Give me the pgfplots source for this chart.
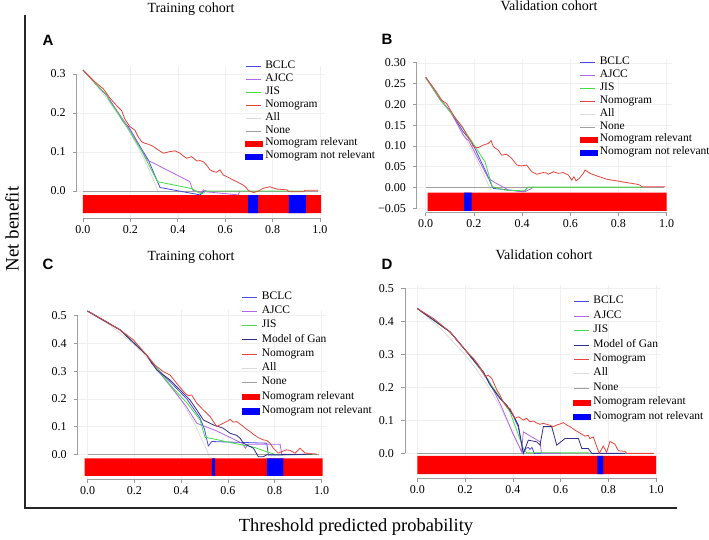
\documentclass[border=0pt]{standalone}
\usepackage{fontspec}
\setmainfont{Liberation Serif}
\newfontfamily\lettersf{Liberation Sans}
\usepackage{pgfplots}
\pgfplotsset{compat=1.18}
\definecolor{cBCLC}{HTML}{4A4AE6}
\definecolor{cAJCC}{HTML}{B266E8}
\definecolor{cJIS}{HTML}{44DD44}
\definecolor{cNomo}{HTML}{E8443A}
\definecolor{cAll}{HTML}{DADADA}
\definecolor{cNone}{HTML}{A0A0A0}
\definecolor{cGan}{HTML}{2E2E8C}
\definecolor{cRed}{HTML}{FF0000}
\definecolor{cBlue}{HTML}{0000FF}
\pgfplotsset{
  dca/.style={scale only axis, clip=false, anchor=south west,
    axis x line*=bottom, axis y line*=left, axis line style={draw=none},
    tick align=outside, major tick length=3.5pt, tick style={gray!80, line width=0.6pt},
    grid=major, major grid style={gray!12, line width=0.5pt},
    xtick={0,0.2,0.4,0.6,0.8,1}, xticklabels={0.0,0.2,0.4,0.6,0.8,1.0},
    ticklabel style={font=\rmfamily\fontsize{12}{12}\selectfont},
    yticklabel style={xshift=-4pt},
    legend cell align=left,
    legend style={draw=none, fill=none, anchor=north west, inner sep=0pt, outer sep=0pt,
      column sep=2.3pt, row sep=0pt, font=\rmfamily\fontsize{11.5}{11.5}\selectfont},
    every axis plot/.append style={line width=0.8pt}},
  ll/.style={legend image code/.code={\draw[#1, line width=1pt] (0pt,0pt) -- (15pt,0pt);}},
  barleg/.style={legend image code/.code={\fill[#1] (0pt,-2.6pt) rectangle (17pt,2.6pt);}},
}
\begin{document}
\begin{tikzpicture}
\useasboundingbox (0pt,0pt) rectangle (709pt,-540pt);
\draw[black!85, line width=1.6pt] (25pt,-15pt) -- (25pt,-508pt) -- (677pt,-508pt);
\node[rotate=90, font=\fontsize{19}{19}\selectfont] at (12pt,-229pt) {Net benefit};
\node[font=\fontsize{18.5}{18.5}\selectfont] at (356pt,-527pt) {Threshold predicted probability};
\node[font=\fontsize{14}{14}\selectfont] at (191pt,-9pt) {Training cohort};
\node[font=\fontsize{14}{14}\selectfont] at (549pt,-6pt) {Validation cohort};
\node[font=\fontsize{14}{14}\selectfont] at (191pt,-257pt) {Training cohort};
\node[font=\fontsize{14}{14}\selectfont] at (544pt,-255pt) {Validation cohort};
\node[font=\lettersf\bfseries\fontsize{15}{15}\selectfont] at (48pt,-40pt) {A};
\node[font=\lettersf\bfseries\fontsize{15}{15}\selectfont] at (387pt,-39pt) {B};
\node[font=\lettersf\bfseries\fontsize{15}{15}\selectfont] at (48pt,-264pt) {C};
\node[font=\lettersf\bfseries\fontsize{15}{15}\selectfont] at (387pt,-264pt) {D};

% ---------------- Panel A ----------------
\begin{axis}[dca, at={(76.6pt,-218.3pt)}, width=248.1pt, height=152.1pt,
  xmin=-0.027, xmax=1.02, ymin=-0.07, ymax=0.32,
  ytick={0,0.1,0.2,0.3}, yticklabels={0.0,0.1,0.2,0.3},
  legend style={at={(0.679,1.040)}, nodes={inner sep=0pt, text height=8.4pt, text depth=4.5pt}}]
\addplot[fill=cRed, draw=none, forget plot] coordinates {(0,-0.0103) (1.005,-0.0103) (1.005,-0.057) (0,-0.057) (0,-0.0103)};
\addplot[fill=cBlue, draw=none, forget plot] coordinates {(0.697,-0.0103) (0.739,-0.0103) (0.739,-0.057) (0.697,-0.057) (0.697,-0.0103)};
\addplot[fill=cBlue, draw=none, forget plot] coordinates {(0.869,-0.0103) (0.941,-0.0103) (0.941,-0.057) (0.869,-0.057) (0.869,-0.0103)};
\addplot[cAll, forget plot] coordinates {(0,0.31)(0.05,0.275)(0.1,0.238)(0.15,0.195)(0.2,0.148)(0.25,0.092)(0.28,0.053)(0.3,0.025)(0.318,-0.004)};
\addplot[cNone, forget plot] coordinates {(0,0)(0.99,0)};
\addplot[cBCLC, forget plot] coordinates {(0,0.31)(0.1,0.245)(0.149,0.199)(0.17,0.178)(0.191,0.166)(0.25,0.105)(0.276,0.079)(0.325,0.009)(0.494,-0.010)(0.508,-0.001)(0.52,0.001)};
\addplot[cAJCC, forget plot] coordinates {(0,0.31)(0.1,0.245)(0.15,0.2)(0.2,0.155)(0.27,0.08)(0.451,0.024)(0.463,0.002)(0.50,-0.004)(0.508,0.003)(0.52,-0.002)(0.655,-0.010)(0.662,0.0)};
\addplot[cJIS, forget plot] coordinates {(0,0.31)(0.1,0.246)(0.114,0.229)(0.17,0.18)(0.25,0.10)(0.314,0.024)(0.46,0.006)(0.50,-0.008)(0.52,0.0)(0.93,0.0)};
\addplot[cNomo, forget plot] coordinates {(0,0.31)(0.05,0.28)(0.086,0.262)(0.114,0.238)(0.142,0.219)(0.163,0.206)(0.177,0.184)(0.198,0.165)(0.219,0.156)(0.233,0.139)(0.248,0.126)(0.262,0.122)(0.276,0.12)(0.297,0.114)(0.318,0.105)(0.339,0.097)(0.353,0.099)(0.367,0.101)(0.388,0.103)(0.409,0.097)(0.423,0.09)(0.437,0.084)(0.459,0.088)(0.48,0.077)(0.494,0.078)(0.508,0.075)(0.522,0.066)(0.536,0.054)(0.55,0.05)(0.564,0.048)(0.578,0.054)(0.592,0.041)(0.613,0.035)(0.634,0.028)(0.655,0.022)(0.676,0.015)(0.69,0.008)(0.698,0.001)(0.72,-0.004)(0.74,0.0)(0.761,0.007)(0.789,0.011)(0.817,0.005)(0.86,0.003)(0.87,-0.002)(0.93,-0.002)(0.937,0.002)(0.993,0.002)};
\draw[gray!75, line width=0.8pt] (axis cs:-0.027,0) -- (axis cs:-0.027,0.3);
\draw[gray!75, line width=0.8pt] (axis cs:0,-0.07) -- (axis cs:1,-0.07);
\addlegendimage{ll=cBCLC}\addlegendentry{BCLC}
\addlegendimage{ll=cAJCC}\addlegendentry{AJCC}
\addlegendimage{ll=cJIS}\addlegendentry{JIS}
\addlegendimage{ll=cNomo}\addlegendentry{Nomogram}
\addlegendimage{ll=cAll}\addlegendentry{All}
\addlegendimage{ll=cNone}\addlegendentry{None}
\addlegendimage{barleg=cRed}\addlegendentry{Nomogram relevant}
\addlegendimage{barleg=cBlue}\addlegendentry{Nomogram not relevant}
\end{axis}

% ---------------- Panel B ----------------
\begin{axis}[dca, at={(416.8pt,-212.5pt)}, width=254.7pt, height=153.9pt,
  xmin=-0.037, xmax=1.02, ymin=-0.06, ymax=0.31,
  ytick={-0.05,0,0.05,0.1,0.15,0.2,0.25,0.3}, yticklabels={−0.05,0.00,0.05,0.10,0.15,0.20,0.25,0.30},
  legend style={at={(0.639,1.016)}, nodes={inner sep=0pt, text height=8.4pt, text depth=4.5pt}}]
\addplot[fill=cRed, draw=none, forget plot] coordinates {(0.008,-0.0125) (1.0,-0.0125) (1.0,-0.056) (0.008,-0.056) (0.008,-0.0125)};
\addplot[fill=cBlue, draw=none, forget plot] coordinates {(0.159,-0.0125) (0.191,-0.0125) (0.191,-0.056) (0.159,-0.056) (0.159,-0.0125)};
\addplot[cAll, forget plot] coordinates {(0,0.265)(0.05,0.226)(0.1,0.183)(0.15,0.135)(0.2,0.081)(0.25,0.02)(0.27,-0.007)};
\addplot[cNone, forget plot] coordinates {(0,0)(0.99,0)};
\addplot[cBCLC, forget plot] coordinates {(0,0.265)(0.059,0.212)(0.1,0.185)(0.156,0.134)(0.191,0.110)(0.253,0.034)(0.276,0.002)(0.281,-0.002)(0.405,-0.010)(0.423,0.0)};
\addplot[cAJCC, forget plot] coordinates {(0,0.265)(0.059,0.212)(0.1,0.185)(0.156,0.126)(0.17,0.116)(0.177,0.114)(0.26,0.022)(0.281,0.014)(0.343,-0.006)(0.412,-0.010)(0.44,-0.002)(0.447,0.002)};
\addplot[cJIS, forget plot] coordinates {(0,0.265)(0.059,0.212)(0.149,0.148)(0.246,0.062)(0.276,0.002)(0.329,-0.006)(0.412,-0.008)(0.423,0.001)(0.9,0.001)};
\addplot[cNomo, forget plot] coordinates {(0,0.265)(0.039,0.234)(0.066,0.210)(0.087,0.202)(0.115,0.174)(0.135,0.158)(0.156,0.142)(0.170,0.126)(0.184,0.114)(0.198,0.098)(0.218,0.096)(0.239,0.102)(0.260,0.106)(0.271,0.113)(0.281,0.098)(0.301,0.090)(0.315,0.078)(0.336,0.080)(0.357,0.070)(0.378,0.054)(0.398,0.052)(0.419,0.054)(0.440,0.038)(0.461,0.032)(0.474,0.034)(0.488,0.036)(0.502,0.035)(0.509,0.032)(0.53,0.038)(0.55,0.034)(0.571,0.036)(0.592,0.030)(0.606,0.018)(0.615,0.026)(0.624,0.016)(0.637,0.022)(0.654,0.034)(0.661,0.042)(0.682,0.034)(0.71,0.028)(0.751,0.020)(0.793,0.016)(0.834,0.012)(0.876,0.008)(0.889,0.006)(0.896,0.002)(0.993,0.002)};
\draw[gray!75, line width=0.8pt] (axis cs:-0.037,-0.05) -- (axis cs:-0.037,0.3);
\draw[gray!75, line width=0.8pt] (axis cs:0,-0.06) -- (axis cs:1,-0.06);
\addlegendimage{ll=cBCLC}\addlegendentry{BCLC}
\addlegendimage{ll=cAJCC}\addlegendentry{AJCC}
\addlegendimage{ll=cJIS}\addlegendentry{JIS}
\addlegendimage{ll=cNomo}\addlegendentry{Nomogram}
\addlegendimage{ll=cAll}\addlegendentry{All}
\addlegendimage{ll=cNone}\addlegendentry{None}
\addlegendimage{barleg=cRed}\addlegendentry{Nomogram relevant}
\addlegendimage{barleg=cBlue}\addlegendentry{Nomogram not relevant}
\end{axis}

% ---------------- Panel C ----------------
\begin{axis}[dca, at={(77.7pt,-479.2pt)}, width=248.5pt, height=169pt,
  xmin=-0.042, xmax=1.02, ymin=-0.09, ymax=0.52,
  ytick={0,0.1,0.2,0.3,0.4,0.5}, yticklabels={0.0,0.1,0.2,0.3,0.4,0.5},
  legend style={at={(0.66,1.120)}, nodes={inner sep=0pt, text height=9.2pt, text depth=5.1pt}}]
\addplot[fill=cRed, draw=none, forget plot] coordinates {(-0.012,-0.0144) (1.005,-0.0144) (1.005,-0.078) (-0.012,-0.078) (-0.012,-0.0144)};
\addplot[fill=cBlue, draw=none, forget plot] coordinates {(0.531,-0.0144) (0.545,-0.0144) (0.545,-0.078) (0.531,-0.078) (0.531,-0.0144)};
\addplot[fill=cBlue, draw=none, forget plot] coordinates {(0.766,-0.0144) (0.837,-0.0144) (0.837,-0.078) (0.766,-0.078) (0.766,-0.0144)};
\addplot[cAll, forget plot] coordinates {(0,0.517)(0.1,0.463)(0.2,0.396)(0.3,0.31)(0.35,0.257)(0.4,0.195)(0.45,0.122)(0.5,0.034)(0.52,-0.006)};
\addplot[cNone, forget plot] coordinates {(0,0)(0.99,0)};
\addplot[cBCLC, forget plot] coordinates {(0,0.517)(0.139,0.449)(0.253,0.358)(0.274,0.328)(0.353,0.262)(0.424,0.20)(0.48,0.132)(0.50,0.09)(0.516,0.03)(0.531,0.046)(0.766,0.040)(0.773,-0.003)(0.98,0.0)};
\addplot[cAJCC, forget plot] coordinates {(0,0.517)(0.139,0.449)(0.253,0.358)(0.281,0.322)(0.35,0.25)(0.42,0.175)(0.467,0.112)(0.55,0.085)(0.623,0.055)(0.66,0.040)(0.675,0.022)(0.685,0.036)(0.823,0.036)(0.83,0.0)(0.98,0.0)};
\addplot[cJIS, forget plot] coordinates {(0,0.517)(0.139,0.449)(0.253,0.358)(0.267,0.34)(0.353,0.25)(0.424,0.186)(0.481,0.124)(0.502,0.061)(0.524,0.058)(0.623,0.040)(0.709,0.026)(0.766,0.009)(0.808,-0.002)(0.98,0.0)};
\addplot[cGan, forget plot] coordinates {(0,0.517)(0.139,0.449)(0.253,0.358)(0.296,0.304)(0.353,0.268)(0.41,0.220)(0.438,0.196)(0.467,0.160)(0.495,0.124)(0.538,0.106)(0.580,0.094)(0.609,0.076)(0.638,0.068)(0.652,0.058)(0.666,0.040)(0.68,0.034)(0.709,0.022)(0.730,-0.009)(0.751,-0.009)(0.766,-0.002)(0.96,0.0)};
\addplot[cNomo, forget plot] coordinates {(0,0.517)(0.068,0.485)(0.139,0.449)(0.196,0.413)(0.253,0.358)(0.288,0.322)(0.324,0.298)(0.353,0.286)(0.381,0.256)(0.417,0.220)(0.431,0.212)(0.445,0.214)(0.467,0.184)(0.495,0.160)(0.524,0.136)(0.552,0.100)(0.566,0.106)(0.580,0.112)(0.595,0.118)(0.609,0.126)(0.623,0.116)(0.638,0.118)(0.652,0.109)(0.666,0.100)(0.680,0.090)(0.695,0.082)(0.709,0.072)(0.73,0.060)(0.751,0.052)(0.766,0.050)(0.780,0.040)(0.794,0.022)(0.815,0.004)(0.837,0.012)(0.851,0.016)(0.865,0.014)(0.887,0.004)(0.908,0.022)(0.929,0.005)(0.95,0.002)(0.979,0.0)};
\draw[gray!75, line width=0.8pt] (axis cs:-0.042,0) -- (axis cs:-0.042,0.5);
\draw[gray!75, line width=0.8pt] (axis cs:0,-0.09) -- (axis cs:1,-0.09);
\addlegendimage{ll=cBCLC}\addlegendentry{BCLC}
\addlegendimage{ll=cAJCC}\addlegendentry{AJCC}
\addlegendimage{ll=cJIS}\addlegendentry{JIS}
\addlegendimage{ll=cGan}\addlegendentry{Model of Gan}
\addlegendimage{ll=cNomo}\addlegendentry{Nomogram}
\addlegendimage{ll=cAll}\addlegendentry{All}
\addlegendimage{ll=cNone}\addlegendentry{None}
\addlegendimage{barleg=cRed}\addlegendentry{Nomogram relevant}
\addlegendimage{barleg=cBlue}\addlegendentry{Nomogram not relevant}
\end{axis}

% ---------------- Panel D ----------------
\begin{axis}[dca, at={(404.9pt,-478.1pt)}, width=255.9pt, height=193.05pt,
  xmin=-0.052, xmax=1.02, ymin=-0.075, ymax=0.51,
  ytick={0,0.1,0.2,0.3,0.4,0.5}, yticklabels={0.0,0.1,0.2,0.3,0.4,0.5},
  legend style={at={(0.658,0.950)}, nodes={inner sep=0pt, text height=9.2pt, text depth=5.2pt}}]
\addplot[fill=cRed, draw=none, forget plot] coordinates {(0,-0.008) (1.0,-0.008) (1.0,-0.063) (0,-0.063) (0,-0.008)};
\addplot[fill=cBlue, draw=none, forget plot] coordinates {(0.754,-0.008) (0.779,-0.008) (0.779,-0.063) (0.754,-0.063) (0.754,-0.008)};
\addplot[cAll, forget plot] coordinates {(0,0.439)(0.1,0.377)(0.2,0.299)(0.25,0.252)(0.3,0.199)(0.35,0.137)(0.4,0.065)(0.42,0.033)(0.44,-0.002)};
\addplot[cNone, forget plot] coordinates {(0,0)(0.99,0)};
\addplot[cBCLC, forget plot] coordinates {(0,0.439)(0.137,0.368)(0.207,0.308)(0.235,0.283)(0.277,0.245)(0.305,0.207)(0.346,0.167)(0.375,0.143)(0.402,0.113)(0.423,0.08)(0.444,0.0)(0.455,0.015)(0.465,0.018)(0.472,0.012)(0.48,0.018)(0.49,0.0)(0.6,0.0)};
\addplot[cAJCC, forget plot] coordinates {(0,0.439)(0.137,0.368)(0.207,0.308)(0.3,0.22)(0.353,0.141)(0.40,0.06)(0.437,0.005)(0.444,0.065)(0.514,0.035)(0.52,0.0)(0.6,0.0)};
\addplot[cJIS, forget plot] coordinates {(0,0.439)(0.137,0.368)(0.207,0.308)(0.26,0.26)(0.291,0.227)(0.388,0.126)(0.444,0.015)(0.458,0.002)(0.72,0.002)};
\addplot[cGan, forget plot] coordinates {(0,0.439)(0.137,0.368)(0.207,0.308)(0.235,0.283)(0.277,0.247)(0.305,0.207)(0.346,0.167)(0.375,0.146)(0.402,0.116)(0.423,0.086)(0.444,0.0)(0.465,0.04)(0.5,0.035)(0.514,0.025)(0.528,0.081)(0.563,0.081)(0.584,0.025)(0.619,0.045)(0.675,0.045)(0.689,0.015)(0.716,0.015)(0.731,0.0)(0.87,0.0)};
\addplot[cNomo, forget plot] coordinates {(0,0.439)(0.067,0.409)(0.137,0.368)(0.207,0.308)(0.235,0.288)(0.256,0.268)(0.270,0.252)(0.284,0.232)(0.297,0.237)(0.312,0.227)(0.333,0.192)(0.346,0.177)(0.360,0.156)(0.375,0.141)(0.388,0.136)(0.402,0.116)(0.409,0.106)(0.423,0.111)(0.444,0.101)(0.458,0.106)(0.472,0.096)(0.486,0.098)(0.5,0.092)(0.514,0.088)(0.528,0.091)(0.542,0.088)(0.556,0.085)(0.570,0.081)(0.585,0.086)(0.598,0.089)(0.612,0.093)(0.626,0.086)(0.640,0.081)(0.661,0.07)(0.682,0.061)(0.703,0.052)(0.716,0.055)(0.723,0.045)(0.737,0.050)(0.752,0.020)(0.762,0.0)(0.779,0.022)(0.793,0.003)(0.807,0.036)(0.828,0.028)(0.842,0.008)(0.870,0.006)(0.877,0.0)(0.99,0.0)};
\draw[gray!75, line width=0.8pt] (axis cs:-0.052,0) -- (axis cs:-0.052,0.5);
\draw[gray!75, line width=0.8pt] (axis cs:0,-0.075) -- (axis cs:1,-0.075);
\addlegendimage{ll=cBCLC}\addlegendentry{BCLC}
\addlegendimage{ll=cAJCC}\addlegendentry{AJCC}
\addlegendimage{ll=cJIS}\addlegendentry{JIS}
\addlegendimage{ll=cGan}\addlegendentry{Model of Gan}
\addlegendimage{ll=cNomo}\addlegendentry{Nomogram}
\addlegendimage{ll=cAll}\addlegendentry{All}
\addlegendimage{ll=cNone}\addlegendentry{None}
\addlegendimage{barleg=cRed}\addlegendentry{Nomogram relevant}
\addlegendimage{barleg=cBlue}\addlegendentry{Nomogram not relevant}
\end{axis}
\end{tikzpicture}
\end{document}
